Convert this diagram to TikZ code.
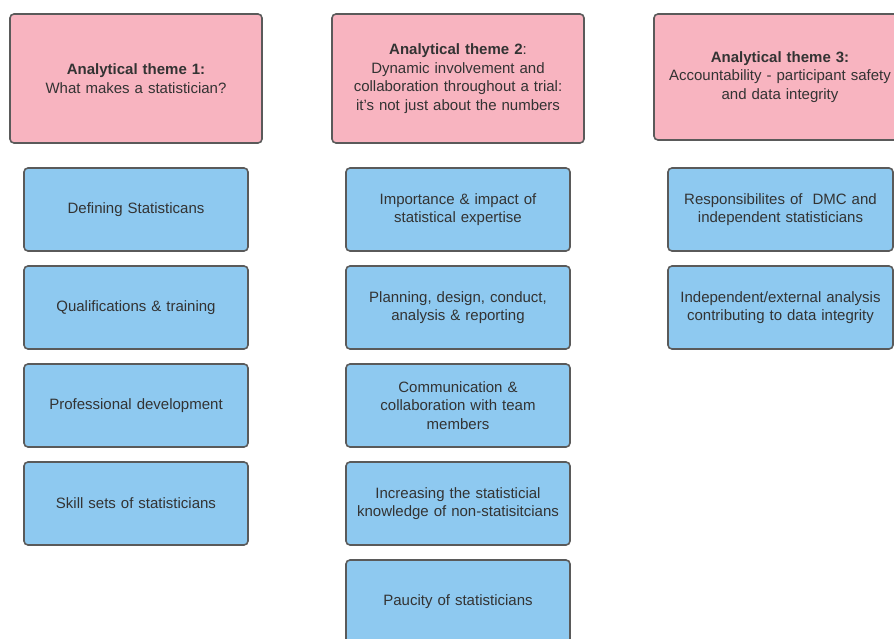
\documentclass[tikz,border=0pt]{standalone}
\usepackage{fontspec}
\setmainfont{Liberation Sans}
\usepackage{tikz}

\definecolor{themepink}{HTML}{F8B4C0}
\definecolor{topicblue}{HTML}{8EC9F0}
\definecolor{edgegray}{HTML}{5A5A5A}
\definecolor{textgray}{HTML}{333333}

\begin{document}
\begin{tikzpicture}[x=1pt,y=-1pt,
  box/.style={draw=edgegray,line width=1.6pt,rounded corners=4pt,align=center,
    text=textgray,font=\fontsize{15}{18.5}\selectfont,inner sep=0pt},
  theme/.style={box,fill=themepink,minimum width=252pt,minimum height=129pt,text width=248pt},
  topic/.style={box,fill=topicblue,minimum width=224pt,minimum height=83pt,text width=220pt}]
\useasboundingbox (0,0) rectangle (894,639);
\fill[white] (0,0) rectangle (894,639);

% headers
\node[theme] (th1) at (136,78.5) {\textbf{Analytical theme 1:}\\What makes a statistician?};
\node[theme] (th2) at (458,78.5) {\textbf{Analytical theme 2}:\\Dynamic involvement and\\collaboration throughout a trial:\\it's not just about the numbers};
\node[theme,minimum height=126pt] (th3) at (780,77) {\textbf{Analytical theme 3:}\\Accountability - participant safety\\and data integrity};

% theme 1
\node[topic] (a1) at (136,209.5) {Defining Statisticans};
\node[topic] (a2) at (136,307.5) {Qualifications \& training};
\node[topic] (a3) at (136,405.5) {Professional development};
\node[topic] (a4) at (136,503.5) {Skill sets of statisticians};

% theme 2
\node[topic] (b1) at (458,209.5) {Importance \& impact of\\statistical expertise};
\node[topic] (b2) at (458,307.5) {Planning, design, conduct,\\analysis \& reporting};
\node[topic] (b3) at (458,405.5) {Communication \&\\collaboration with team\\members};
\node[topic] (b4) at (458,503.5) {Increasing the statisticial\\knowledge of non-statisitcians};
\node[topic] (b5) at (458,601.5) {Paucity of statisticians};

% theme 3
\node[topic,minimum width=225pt] (c1) at (780.5,209.5) {Responsibilites of\ \ DMC and\\independent statisticians};
\node[topic,minimum width=225pt] (c2) at (780.5,307.5) {Independent/external analysis\\contributing to data integrity};
\end{tikzpicture}
\end{document}
